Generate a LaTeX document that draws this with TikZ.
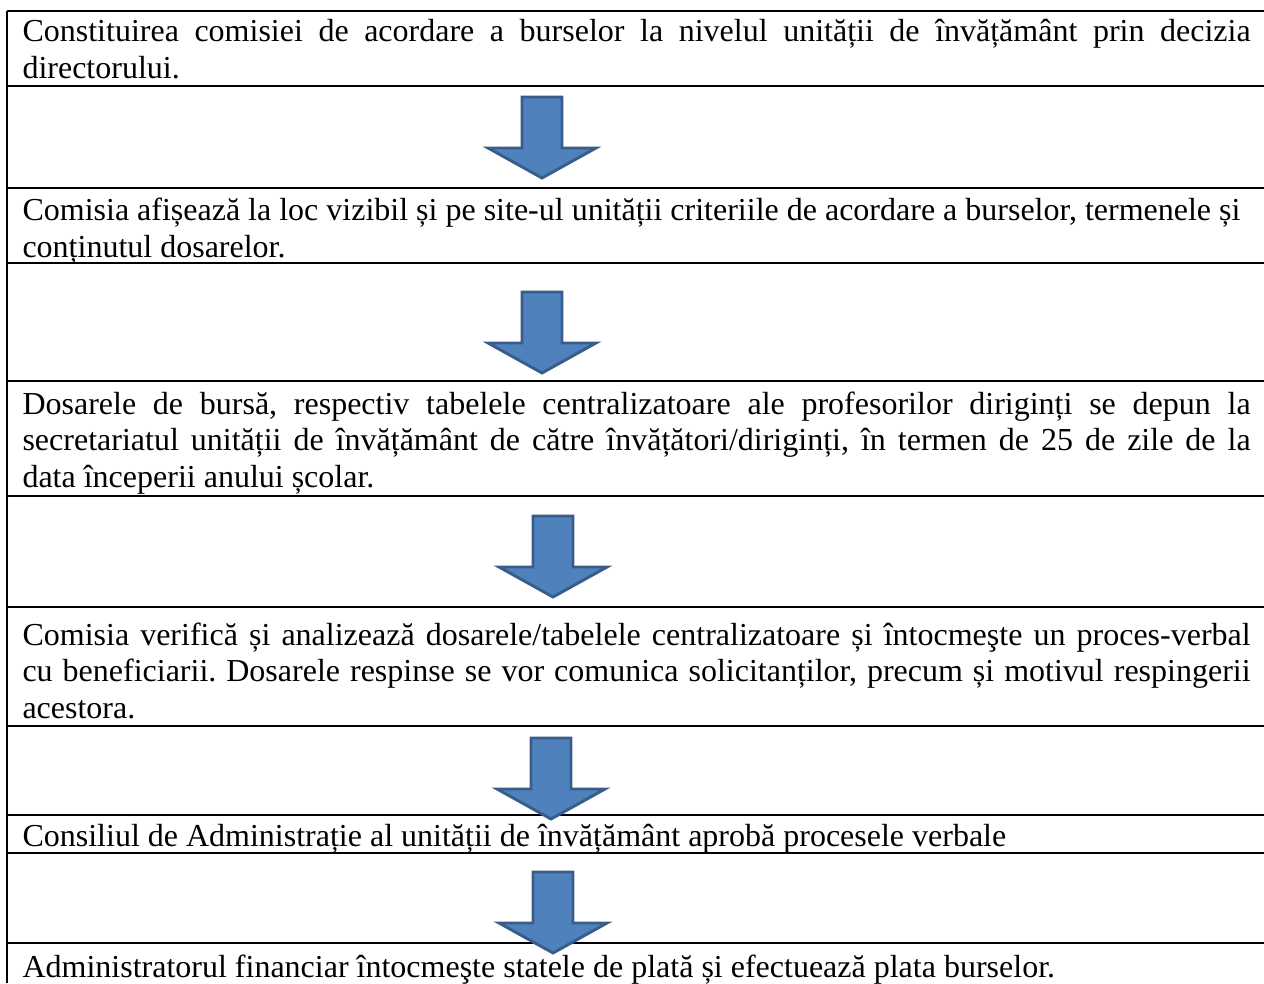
\documentclass[tikz,border=0pt]{standalone}
\usepackage{fontspec}
\setmainfont{Liberation Serif}
\usepackage{tikz}
\usetikzlibrary{calc}
\definecolor{arrowfill}{HTML}{4F81BD}
\definecolor{arrowline}{HTML}{385D8A}
\tikzstyle{rule}=[line width=0.9pt]
\tikzstyle{blockarrow}=[
    fill=arrowfill,
    draw=arrowline,
    line width=1.1pt,
    line join=miter
]
\tikzstyle{celltext}=[
    anchor=base west,
    inner sep=0pt,
    font=\fontsize{12.14pt}{13.85pt}\selectfont
]
\newlength{\cellw}
\setlength{\cellw}{465.9pt}
\newcommand{\jline}[1]{\makebox[\cellw][s]{#1}}
\frenchspacing

\begin{document}
\begin{tikzpicture}[x=0.3794pt, y=-0.3794pt]
        \useasboundingbox (0,0) rectangle (1264,983);

        % table rules
        \foreach \ly in {11,86,188,263,381,496,607,726,815,853,943}
            \draw[rule] (7,\ly) -- (1264,\ly);
        \draw[rule] (7,11) -- (7,983);

        % block arrows
        \foreach \ax/\ay in {542/97, 542/292, 553/516, 551/738, 553/872}
            \draw[blockarrow, shift={(\ax,\ay)}] (-20,0) -- (20,0) -- (20,51)
                -- (54,51) -- (0,81) -- (-54,51) -- (-20,51) -- cycle;

        % steps
        \node[celltext] (r1) at (22,42) {\parbox[t]{\cellw}{%
            \jline{Constituirea comisiei de acordare a burselor la nivelul unității de învățământ prin decizia}\\
            directorului.}};
        \node[celltext] (r2) at (22,221) {\parbox[t]{\cellw}{%
            Comisia afișează la loc vizibil și pe site-ul unității criteriile de acordare a burselor, termenele și\\
            conținutul dosarelor.}};
        \node[celltext] (r3) at (22,414) {\parbox[t]{\cellw}{%
            \jline{Dosarele de bursă, respectiv tabelele centralizatoare ale profesorilor diriginți se depun la}\\
            \jline{secretariatul unității de învățământ de către învățători/diriginți, în termen de 25 de zile de la}\\
            data începerii anului școlar.}};
        \node[celltext] (r4) at (22,645) {\parbox[t]{\cellw}{%
            \jline{Comisia verifică și analizează dosarele/tabelele centralizatoare și întocmeşte un proces-verbal}\\
            \jline{cu beneficiarii. Dosarele respinse se vor comunica solicitanților, precum și motivul respingerii}\\
            acestora.}};
        \node[celltext] (r5) at (22,846) {Consiliul de Administrație al unității de învățământ aprobă procesele verbale};
        \node[celltext] (r6) at (22,977) {Administratorul financiar întocmeşte statele de plată și efectuează plata burselor.};

    \end{tikzpicture}
\end{document}
